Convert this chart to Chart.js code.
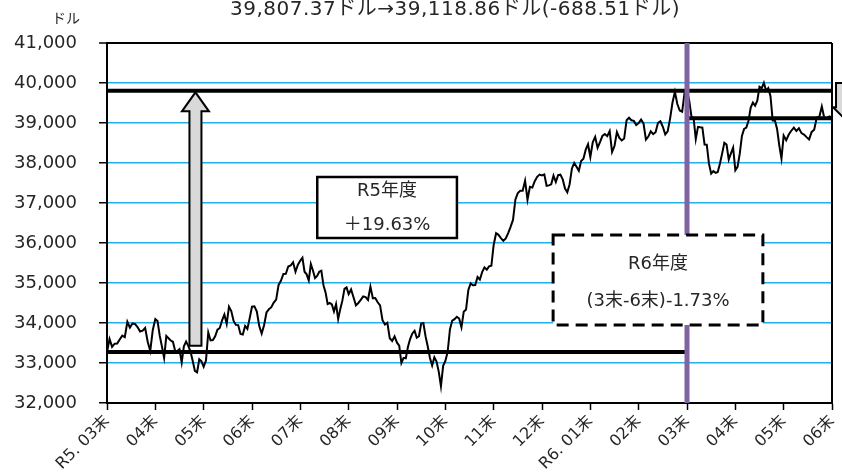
<!DOCTYPE html>
<html>
<head>
<meta charset="utf-8">
<script src="https://cdn.jsdelivr.net/npm/chart.js@4/dist/chart.umd.min.js"></script>
<style>
  body { margin: 0; background: #fff; }
</style>
</head>
<body>
<canvas id="chart" width="842" height="475"></canvas>
<script>
// month-end tick labels (R5.03末 ... R6.06末)
const monthLabels = ["R5. 03末", "04末", "05末", "06末", "07末", "08末", "09末", "10末",
  "11末", "12末", "R6. 01末", "02末", "03末", "04末", "05末", "06末"];

// daily closes, in dollars, one array per month
const mar23End = [33275];
const apr23 = [33601, 33403, 33482, 33485, 33587, 33685, 33647, 34030, 33887, 33988, 33977, 33897, 33787, 33809, 33876, 33531, 33302, 33826, 34098];
const may23 = [34051, 33684, 33414, 33128, 33674, 33618, 33562, 33531, 33309, 33300, 33348, 33012, 33420, 33535, 33427, 33286, 33055, 32800, 32765, 33093, 33042, 32908];
const jun23 = [33061, 33762, 33563, 33573, 33665, 33833, 33876, 34066, 34212, 33979, 34408, 34299, 34053, 33952, 33947, 33727, 33714, 33927, 33852, 34122, 34408];
const jul23 = [34418, 34288, 33922, 33734, 33944, 34262, 34347, 34395, 34509, 34585, 34952, 35061, 35225, 35228, 35411, 35438, 35520, 35283, 35459, 35560];
const aug23 = [35630, 35282, 35216, 35066, 35473, 35314, 35123, 35176, 35281, 35307, 34946, 34766, 34474, 34500, 34463, 34288, 34472, 34099, 34346, 34559, 34852, 34891, 34722];
const sep23 = [34838, 34642, 34443, 34501, 34577, 34663, 34646, 34576, 34908, 34619, 34624, 34518, 34441, 34070, 33964, 34007, 33619, 33551, 33667, 33508];
const oct23 = [33433, 33002, 33129, 33119, 33407, 33604, 33739, 33804, 33631, 33670, 33985, 33998, 33665, 33414, 33127, 32936, 33141, 33036, 32784, 32418, 32929, 33053];
const nov23 = [33275, 33839, 34061, 34096, 34153, 34112, 33892, 34283, 34337, 34828, 34991, 34945, 34947, 35151, 35088, 35273, 35390, 35333, 35417, 35430, 35951];
const dec23 = [36245, 36204, 36124, 36054, 36117, 36247, 36404, 36577, 37090, 37248, 37305, 37306, 37558, 37082, 37404, 37385, 37545, 37656, 37710, 37690];
const jan24 = [37715, 37430, 37440, 37466, 37683, 37525, 37696, 37711, 37593, 37361, 37267, 37469, 37864, 38002, 37906, 37807, 38050, 38109, 38333, 38467, 38150];
const feb24 = [38519, 38654, 38380, 38521, 38677, 38726, 38671, 38797, 38273, 38424, 38773, 38628, 38564, 38612, 39069, 39131, 39069, 39053, 38949, 38996];
const mar24 = [39087, 38989, 38585, 38661, 38791, 38723, 38770, 39005, 39043, 38906, 38715, 38790, 39111, 39512, 39781, 39475, 39313, 39282, 39760, 39807];
const apr24 = [39567, 39170, 39127, 38597, 38904, 38892, 38884, 38462, 38459, 37983, 37735, 37799, 37753, 37775, 37986, 38240, 38504, 38461, 38086, 38240, 38386, 37816];
const may24 = [37903, 38226, 38676, 38852, 38884, 39056, 39388, 39513, 39432, 39558, 39908, 39869, 40004, 39807, 39873, 39671, 39065, 39070, 38853, 38442, 38112, 38686];
const jun24 = [38571, 38711, 38807, 38886, 38799, 38868, 38747, 38712, 38647, 38589, 38778, 38834, 39134, 39150, 39411, 39112, 39127, 39164, 39119];

// reference levels
const r5Start = 33274.96;   // R5.03末
const r5End = 39807.37;     // R6.03末
const r6Now = 39118.86;     // R6.06末
const fyBoundary = 12;      // month index of R6.03末

const yTicks = [32000, 33000, 34000, 35000, 36000, 37000, 38000, 39000, 40000, 41000];

const months = [apr23, may23, jun23, jul23, aug23, sep23, oct23, nov23, dec23, jan24, feb24, mar24, apr24, may24, jun24];
const djia = [{ x: 0, y: mar23End[0] }];
months.forEach((m, mi) => {
  m.forEach((v, i) => djia.push({ x: mi + (i + 1) / m.length, y: v }));
});

const FONT = '"DejaVu Sans", "Noto Sans CJK JP", sans-serif';
const TEXT = "#262626";
const GRID = "#1fb0f0";

function blockArrow(ctx, cx, yBase, yTip, shaft, head, headLen) {
  const dir = yTip < yBase ? 1 : -1;   // 1 = pointing up
  const yNeck = yTip + dir * headLen;
  ctx.beginPath();
  ctx.moveTo(cx - shaft, yBase);
  ctx.lineTo(cx - shaft, yNeck);
  ctx.lineTo(cx - head, yNeck);
  ctx.lineTo(cx, yTip);
  ctx.lineTo(cx + head, yNeck);
  ctx.lineTo(cx + shaft, yNeck);
  ctx.lineTo(cx + shaft, yBase);
  ctx.closePath();
  ctx.fillStyle = "#d9d9d9";
  ctx.fill();
  ctx.lineWidth = 2;
  ctx.strokeStyle = "#000";
  ctx.lineJoin = "miter";
  ctx.stroke();
}

function textBox(ctx, x1, y1, x2, y2, lines, dashed) {
  ctx.save();
  ctx.fillStyle = "#fff";
  ctx.fillRect(x1, y1, x2 - x1, y2 - y1);
  ctx.strokeStyle = "#000";
  ctx.lineWidth = dashed ? 3 : 2.5;
  if (dashed) ctx.setLineDash([12, 7]);
  ctx.strokeRect(x1, y1, x2 - x1, y2 - y1);
  ctx.setLineDash([]);
  ctx.fillStyle = TEXT;
  ctx.font = "18px " + FONT;
  ctx.textAlign = "center";
  ctx.textBaseline = "middle";
  const cx = (x1 + x2) / 2;
  lines.forEach(l => ctx.fillText(l.text, cx, y1 + l.dy));
  ctx.restore();
}

const extras = {
  id: "extras",
  beforeDatasetsDraw(chart) {
    const { ctx, chartArea } = chart;
    ctx.save();
    ctx.strokeStyle = "#000";
    ctx.lineWidth = 2;
    ctx.beginPath();
    ctx.moveTo(chartArea.right, chartArea.top);
    ctx.lineTo(chartArea.right, chartArea.bottom);
    ctx.stroke();
    ctx.restore();
  },
  afterDatasetsDraw(chart) {
    const { ctx } = chart;
    const xs = chart.scales.x, ys = chart.scales.y;
    ctx.save();
    // R5 rise arrow
    blockArrow(ctx, xs.getPixelForValue(1.83), ys.getPixelForValue(33430), ys.getPixelForValue(r5End - 40), 6, 13.5, 19);
    // R6 fall arrow (cut by the canvas edge)
    blockArrow(ctx, xs.getPixelForValue(15.29), ys.getPixelForValue(40000), ys.getPixelForValue(39070), 10, 13, 13);
    ctx.restore();

    textBox(ctx, xs.getPixelForValue(4.35), ys.getPixelForValue(37650), xs.getPixelForValue(7.24), ys.getPixelForValue(36125),
      [{ text: "R5年度", dy: 14 }, { text: "＋19.63%", dy: 48 }], false);
    textBox(ctx, xs.getPixelForValue(9.23), ys.getPixelForValue(36200), xs.getPixelForValue(13.57), ys.getPixelForValue(33950),
      [{ text: "R6年度", dy: 29 }, { text: "(3末-6末)-1.73%", dy: 66 }], true);
  },
  afterDraw(chart) {
    const { ctx } = chart;
    ctx.save();
    ctx.fillStyle = TEXT;
    ctx.textAlign = "center";
    ctx.textBaseline = "middle";
    ctx.font = "20px " + FONT;
    ctx.letterSpacing = "0.5px";
    ctx.fillText("39,807.37ドル→39,118.86ドル(-688.51ドル)", 455, 10);
    ctx.letterSpacing = "0px";
    ctx.font = "14px " + FONT;
    ctx.fillText("ドル", 66, 19);
    ctx.restore();
  }
};

new Chart(document.getElementById("chart"), {
  type: "line",
  data: {
    datasets: [
      { data: [{ x: fyBoundary, y: 32000 }, { x: fyBoundary, y: 41000 }], borderColor: "#8064a2", borderWidth: 5, order: 0 },
      { data: [{ x: 0, y: r5End }, { x: 15, y: r5End }], borderColor: "#000", borderWidth: 4, order: 1 },
      { data: [{ x: 0, y: r5Start }, { x: fyBoundary, y: r5Start }], borderColor: "#000", borderWidth: 4, order: 1 },
      { data: [{ x: fyBoundary, y: r6Now }, { x: 15, y: r6Now }], borderColor: "#000", borderWidth: 4, order: 1 },
      { data: djia, borderColor: "#000", borderWidth: 2, order: 2 }
    ]
  },
  options: {
    responsive: false,
    animation: false,
    layout: { padding: { top: 43, right: 10, left: 0, bottom: 0 } },
    elements: { point: { radius: 0 }, line: { tension: 0, borderCapStyle: "butt" } },
    plugins: { legend: { display: false }, tooltip: { enabled: false } },
    scales: {
      x: {
        type: "linear",
        min: 0,
        max: 15,
        afterFit: s => { s.height = 72; s.paddingLeft = 0; s.paddingRight = 0; },
        ticks: {
          stepSize: 1,
          autoSkip: false,
          minRotation: 45,
          maxRotation: 45,
          padding: 2,
          color: TEXT,
          font: { family: FONT, size: 16 },
          callback: v => monthLabels[v] ?? ""
        },
        grid: { drawOnChartArea: false, drawTicks: true, tickLength: 7, tickColor: "#000", tickWidth: 1.5 },
        border: { display: true, color: "#000", width: 2 }
      },
      y: {
        min: 32000,
        max: 41000,
        afterFit: s => { s.width = 107; },
        afterBuildTicks: s => { s.ticks = yTicks.map(v => ({ value: v })); },
        ticks: {
          padding: 22,
          color: TEXT,
          font: { family: FONT, size: 18 },
          callback: v => v.toLocaleString("en-US")
        },
        grid: {
          color: c => c.tick && c.tick.value === 41000 ? "#000" : GRID,
          lineWidth: c => c.tick && c.tick.value === 41000 ? 2 : 1.5,
          tickLength: 8,
          tickColor: "#000",
          tickWidth: 1.5
        },
        border: { display: true, color: "#000", width: 2 }
      }
    }
  },
  plugins: [extras]
});
</script>
</body>
</html>
